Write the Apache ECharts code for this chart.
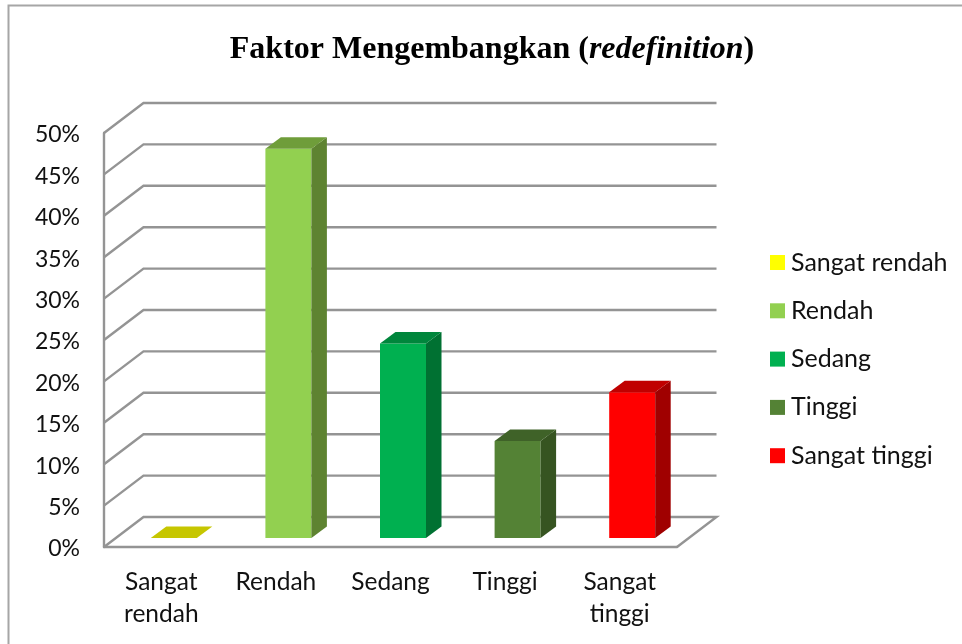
<!DOCTYPE html>
<html>
<head>
<meta charset="utf-8">
<style>html,body{margin:0;padding:0;background:#fff}#c{width:962px;height:644px}</style>
<script src="https://cdn.jsdelivr.net/npm/echarts@6/dist/echarts.min.js"></script>
</head>
<body>
<div id="c"></div>
<script>
var categories = ['Sangat\nrendah', 'Rendah', 'Sedang', 'Tinggi', 'Sangat\ntinggi'];
var seriesNames = ['Sangat rendah', 'Rendah', 'Sedang', 'Tinggi', 'Sangat tinggi'];
var values = [0, 47, 23.5, 11.7, 17.6];
var frontColors = ['#FFFF00', '#92D050', '#00B050', '#548235', '#FF0000'];
var topColors = ['#C6C600', '#6F9D3A', '#00863C', '#3F6228', '#C00000'];
var sideColors = ['#C6C600', '#5E8331', '#007132', '#365421', '#A00000'];
var gridTicks = [0, 5, 10, 15, 20, 25, 30, 35, 40, 45, 50];

var WALL_DX = 39.5, WALL_DY = -30;
var BAR_DX = 12.5, BAR_DY = -9;
var BAR_W = 46, BAR_DEPTH_X = 15.5, BAR_DEPTH_Y = -11.5;
var FONT = 'Lato, Carlito, "Open Sans", sans-serif';

function wallItem(params, api) {
  var v = api.value(0);
  var band = api.size([1, 0])[0];
  var first = api.coord([0, v]);
  var last = api.coord([categories.length - 1, v]);
  var a = [first[0] - band / 2, first[1]];
  var b = [last[0] + band / 2, last[1]];
  var back = [a[0] + WALL_DX, a[1] + WALL_DY];
  var end = [b[0] + WALL_DX, b[1] + WALL_DY];
  var pts = [a, back, end];
  if (v === 0) { pts.push(b); }
  return {
    type: 'polyline',
    shape: { points: pts },
    style: { stroke: '#949494', lineWidth: 2.4, fill: null },
    silent: true
  };
}

function barItem(color, topColor, sideColor) {
  return function (params, api) {
    var cat = api.value(0), val = api.value(1);
    var b = api.coord([cat, 0]), t = api.coord([cat, val]);
    var x0 = b[0] + BAR_DX - BAR_W / 2, x1 = x0 + BAR_W;
    var yb = b[1] + BAR_DY, yt = t[1] + BAR_DY;
    var dx = BAR_DEPTH_X, dy = BAR_DEPTH_Y;
    var kids = [];
    if (val > 0) {
      kids.push({ type: 'polygon', shape: { points: [[x0, yb], [x1, yb], [x1, yt], [x0, yt]] }, style: { fill: color } });
      kids.push({ type: 'polygon', shape: { points: [[x1, yb], [x1 + dx, yb + dy], [x1 + dx, yt + dy], [x1, yt]] }, style: { fill: sideColor } });
    }
    kids.push({ type: 'polygon', shape: { points: [[x0, yt], [x1, yt], [x1 + dx, yt + dy], [x0 + dx, yt + dy]] }, style: { fill: topColor } });
    return { type: 'group', children: kids };
  };
}

var series = [{
  type: 'custom',
  name: '__walls',
  coordinateSystem: 'cartesian2d',
  renderItem: wallItem,
  data: gridTicks.map(function (t) { return [t]; }),
  encode: { y: 0 },
  silent: true,
  z: 1,
  clip: false
}];
seriesNames.forEach(function (n, i) {
  series.push({
    type: 'custom',
    name: n,
    coordinateSystem: 'cartesian2d',
    renderItem: barItem(frontColors[i], topColors[i], sideColors[i]),
    itemStyle: { color: frontColors[i] },
    data: [[i, values[i]]],
    encode: { x: 0, y: 1 },
    z: 3,
    clip: false
  });
});

var chart = echarts.init(document.getElementById('c'), null, { renderer: 'canvas' });
chart.setOption({
  animation: false,
  backgroundColor: '#fff',
  title: {
    left: 487,
    textAlign: 'center',
    top: 29,
    text: '{b|Faktor Mengembangkan (}{i|redefinition}{b|)}',
    textStyle: {
      rich: {
        b: { fontFamily: '"Liberation Serif", serif', fontWeight: 'bold', fontSize: 32, color: '#000' },
        i: { fontFamily: '"Liberation Serif", serif', fontWeight: 'bold', fontStyle: 'italic', fontSize: 32, color: '#000' }
      }
    }
  },
  grid: { left: 104, top: 133, width: 573, height: 414, containLabel: false },
  xAxis: {
    type: 'category',
    data: categories,
    axisLine: { show: true, onZero: false, lineStyle: { color: '#949494', width: 2.4 } },
    axisTick: { show: false },
    splitLine: { show: false },
    axisLabel: { color: '#111', fontFamily: FONT, fontSize: 24.5, lineHeight: 32, margin: 19, interval: 0 }
  },
  yAxis: {
    type: 'value',
    min: 0,
    max: 50,
    interval: 5,
    axisLine: { show: true, lineStyle: { color: '#949494', width: 2.4 } },
    axisTick: { show: false },
    splitLine: { show: false },
    axisLabel: {
      margin: 24,
      formatter: '{a|{value}%}',
      rich: { a: { color: '#111', fontFamily: FONT, fontSize: 23, padding: [4, 0, 0, 0] } }
    }
  },
  legend: {
    orient: 'vertical',
    left: 765,
    top: 244,
    data: seriesNames,
    icon: 'rect',
    itemWidth: 15,
    itemHeight: 15,
    itemGap: 21.3,
    selectedMode: false,
    textStyle: { color: '#111', fontFamily: FONT, fontSize: 25, padding: [0, 0, 0, 1], lineHeight: 27 }
  },
  graphic: [{
    type: 'polyline',
    shape: { points: [[8.5, 644], [8.5, 5.5], [962, 5.5]] },
    style: { stroke: '#A6A6A6', lineWidth: 2, fill: null },
    silent: true,
    z: 0
  }],
  series: series
});
</script>
</body>
</html>
